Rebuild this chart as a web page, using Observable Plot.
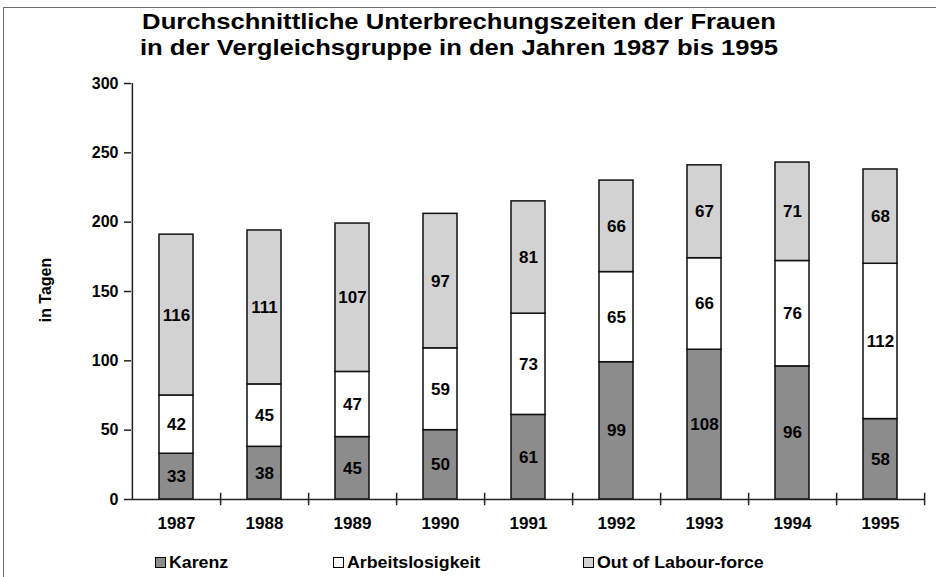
<!DOCTYPE html>
<html>
<head>
<meta charset="utf-8">
<script src="https://cdn.jsdelivr.net/npm/d3@7"></script>
<script src="https://cdn.jsdelivr.net/npm/@observablehq/plot@0.6"></script>
<style>
  html, body { margin: 0; padding: 0; background: #fff; }
  body { width: 936px; height: 577px; position: relative; overflow: hidden;
         font-family: "Liberation Sans", Arial, Helvetica, sans-serif; font-weight: bold; color: #000; }
  #frame { position: absolute; left: 3px; top: 7px; width: 960px; height: 600px;
           border-top: 1.5px solid #6e6e6e; border-left: 1.5px solid #6e6e6e; }
  #title { position: absolute; left: 0; top: 9px; width: 918px; text-align: center;
           font-size: 22px; line-height: 26px; transform: scaleX(1.165); transform-origin: 459px 0; }
  #chart { position: absolute; left: 0; top: 70px; }
  #ylabel { position: absolute; left: 46px; top: 290px; font-size: 16px;
            transform: translate(-50%, -50%) rotate(-90deg); white-space: nowrap; }
  .leg { position: absolute; top: 554px; font-size: 16px; line-height: 18px; white-space: nowrap; }
  .sw { display: inline-block; width: 9px; height: 9px; border: 1px solid #000; margin-right: 3px; vertical-align: 0px; }
  .lt { display: inline-block; transform: scaleX(1.11); transform-origin: 0 0; }
</style>
</head>
<body>
<div id="frame"></div>
<div id="title">Durchschnittliche Unterbrechungszeiten der Frauen<br>in der Vergleichsgruppe in den Jahren 1987 bis 1995</div>
<div id="ylabel">in Tagen</div>
<div id="chart"></div>
<div id="legend"></div>
<script>
const years = ["1987","1988","1989","1990","1991","1992","1993","1994","1995"];
const series = ["Karenz", "Arbeitslosigkeit", "Out of Labour-force"];
const karenz = [33, 38, 45, 50, 61, 99, 108, 96, 58];
const arbeitslosigkeit = [42, 45, 47, 59, 73, 65, 66, 76, 112];
const outOfLabour = [116, 111, 107, 97, 81, 66, 67, 71, 68];
const yTicks = [0, 50, 100, 150, 200, 250, 300];
const colors = ["#8c8c8c", "#ffffff", "#d2d2d2"];

const seriesValues = [karenz, arbeitslosigkeit, outOfLabour];
const data = [];
years.forEach((yr, i) => {
  series.forEach((s, j) => data.push({year: yr, series: s, value: seriesValues[j][i]}));
});

const W = 936, H = 464, mL = 131, mR = 11, mT = 13, mB = 35;
const pInner = 0.61, pOuter = 0.305;
const step = (W - mL - mR) / (years.length - pInner + 2 * pOuter);

const chart = Plot.plot({
  width: W, height: H,
  marginLeft: mL, marginRight: mR, marginTop: mT, marginBottom: mB,
  style: {fontFamily: '"Liberation Sans", Arial, sans-serif', fontWeight: "bold", color: "#000", background: "transparent"},
  x: {domain: years, paddingInner: pInner, paddingOuter: pOuter},
  y: {domain: [yTicks[0], yTicks[yTicks.length - 1]]},
  color: {domain: series, range: colors},
  marks: [
    Plot.barY(data, Plot.stackY({x: "year", y: "value", fill: "series", z: "series",
      stroke: "#111", strokeWidth: 1.5})),
    Plot.text(data, Plot.stackY({x: "year", y: "value", z: "series", text: "value",
      fontSize: 17, fontWeight: "bold", fill: "#000"})),
    Plot.ruleY([yTicks[0]], {stroke: "#222", strokeWidth: 1.5}),
    Plot.ruleX([years[0]], {x: d => d, y1: yTicks[0], y2: yTicks[yTicks.length - 1],
      dx: -step / 2, stroke: "#222", strokeWidth: 1.5}),
    Plot.ruleX(years, {x: d => d, y1: -4.5, y2: 4.5, dx: step / 2, stroke: "#222", strokeWidth: 1.5}),
    Plot.axisY({ticks: yTicks, tickSize: 7, tickPadding: 6, fontSize: 16, fontWeight: "bold",
      label: null, stroke: "#222", strokeWidth: 1.5}),
    Plot.axisX({tickSize: 0, tickPadding: 17, fontSize: 17, fontWeight: "bold", label: null})
  ]
});
document.getElementById("chart").appendChild(chart);

const legendX = [155, 333, 583];
const legend = document.getElementById("legend");
series.forEach((s, i) => {
  const d = document.createElement("div");
  d.className = "leg";
  d.style.left = legendX[i] + "px";
  d.innerHTML = `<span class="sw" style="background:${colors[i]}"></span><span class="lt">${s}</span>`;
  legend.appendChild(d);
});
</script>
</body>
</html>
